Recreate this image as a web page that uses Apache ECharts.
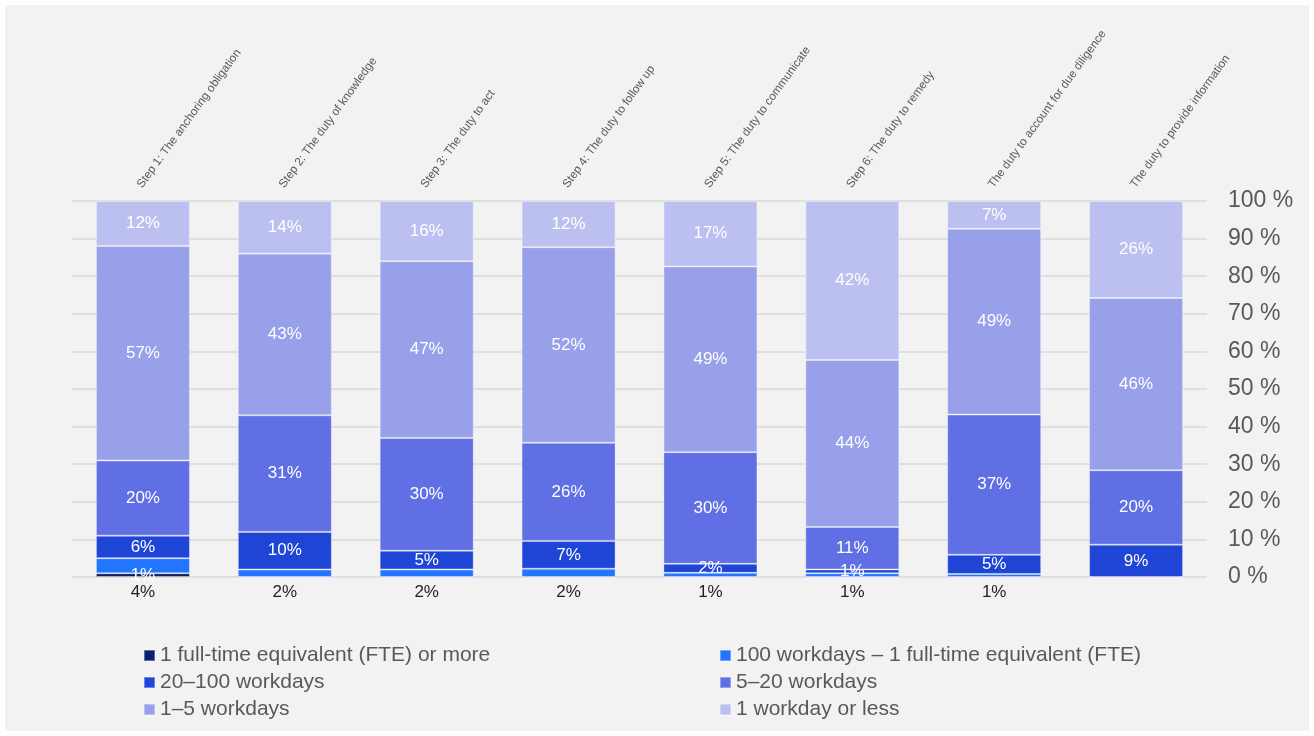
<!DOCTYPE html>
<html>
<head>
<meta charset="utf-8">
<script src="https://cdn.jsdelivr.net/npm/echarts@6/dist/echarts.min.js"></script>
<style>
html,body{margin:0;padding:0;background:#ffffff;}
#chart{position:absolute;left:5px;top:5px;width:1304px;height:726px;background:#f2f2f2;}
</style>
</head>
<body>
<div id="chart"></div>
<script>
var categories = [
  'Step 1: The anchoring obligation',
  'Step 2: The duty of knowledge',
  'Step 3: The duty to act',
  'Step 4: The duty to follow up',
  'Step 5: The duty to communicate',
  'Step 6: The duty to remedy',
  'The duty to account for due diligence',
  'The duty to provide information'
];
var seriesNames = [
  '1 full-time equivalent (FTE) or more',
  '100 workdays \u2013 1 full-time equivalent (FTE)',
  '20\u2013100 workdays',
  '5\u201320 workdays',
  '1\u20135 workdays',
  '1 workday or less'
];
var fteOrMore      = [1, 0, 0, 0,    0,    0,    0,    0];
var days100ToFte   = [4, 2, 2, 2.2,  1.1,  1.0,  0.8,  0];
var days20To100    = [6, 10, 5, 7.4, 2.4,  1.0,  5.1,  8.6];
var days5To20      = [20, 31, 30, 26.1, 29.7, 11.3, 37.3, 19.8];
var days1To5       = [57, 43, 47, 52.0, 49.4, 44.4, 49.4, 45.8];
var dayOrLess      = [12, 14, 16, 12.3, 17.4, 42.3, 7.4, 25.8];
var yTicks = [0, 10, 20, 30, 40, 50, 60, 70, 80, 90, 100];

var colors = ['#0c1f6c', '#2275fe', '#1f45d7', '#6070e4', '#97a0e9', '#bcc0f0'];
var seriesData = [fteOrMore, days100ToFte, days20To100, days5To20, days1To5, dayOrLess];
var FONT = "'Liberation Sans', Arial, sans-serif";

var chart = echarts.init(document.getElementById('chart'), null, {renderer: 'canvas'});

var series = seriesNames.map(function (name, i) {
  return {
    name: name,
    type: 'bar',
    stack: 'total',
    xAxisIndex: 0,
    yAxisIndex: 0,
    barWidth: 94,
    data: seriesData[i],
    itemStyle: {color: colors[i], borderColor: 'rgba(255,255,255,0.35)', borderWidth: 1},
    label: {
      show: i !== 1,
      position: 'inside',
      color: '#ffffff',
      fontFamily: FONT,
      fontSize: 17,
      formatter: function (p) { return p.value > 0 ? Math.round(p.value) + '%' : ''; }
    },
    emphasis: {disabled: true}
  };
});

var legendText = {color: '#595959', fontFamily: FONT, fontSize: 21};

chart.setOption({
  backgroundColor: '#f2f2f2',
  animation: false,
  grid: {left: 67, right: 102, top: 196, bottom: 154},
  legend: [
    {
      orient: 'vertical', left: 133, top: 635, itemWidth: 11, itemHeight: 11, itemGap: 6,
      icon: 'rect', textStyle: legendText, selectedMode: false,
      data: [seriesNames[0], seriesNames[2], seriesNames[4]]
    },
    {
      orient: 'vertical', left: 709, top: 635, itemWidth: 11, itemHeight: 11, itemGap: 6,
      icon: 'rect', textStyle: legendText, selectedMode: false,
      data: [seriesNames[1], seriesNames[3], seriesNames[5]]
    }
  ],
  xAxis: [
    {
      type: 'category', position: 'bottom', data: categories,
      axisLine: {show: false}, axisTick: {show: false},
      axisLabel: {
        color: '#1f1f1f', fontFamily: FONT, fontSize: 17, margin: 7, interval: 0,
        formatter: function (v, idx) {
          var val = days100ToFte[idx];
          return val > 0 ? Math.round(val) + '%' : '';
        }
      }
    },
    {
      type: 'category', position: 'top', data: categories,
      axisLine: {show: false}, axisTick: {show: false},
      axisLabel: {
        color: '#595959', fontFamily: FONT, fontSize: 11.7, rotate: -54, margin: 12,
        interval: 0, verticalAlign: 'bottom', lineHeight: 8
      }
    }
  ],
  yAxis: {
    type: 'value', position: 'right', min: 0, max: 100, interval: 10,
    axisLine: {show: false}, axisTick: {show: false},
    splitLine: {lineStyle: {color: '#d9d9d9', width: 1.5}},
    axisLabel: {
      color: '#595959', fontFamily: FONT, fontSize: 23, margin: 21,
      formatter: function (v) { return yTicks.indexOf(v) >= 0 ? v + ' %' : ''; }
    }
  },
  series: series
});
</script>
</body>
</html>
